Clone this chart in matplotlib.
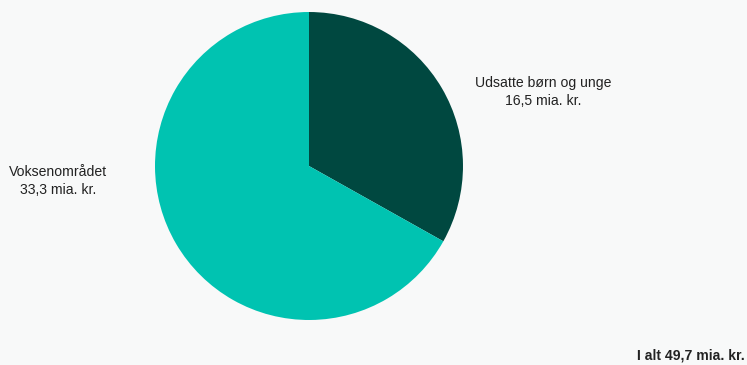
import matplotlib
matplotlib.use("Agg")
import matplotlib.pyplot as plt

categories = ["Udsatte børn og unge", "Voksenområdet"]
values = [16.5, 33.3]
value_labels = ["16,5 mia. kr.", "33,3 mia. kr."]
total_label = "I alt 49,7 mia. kr."
colors = ["#004840", "#00c3b1"]

plt.rcParams['font.family'] = ['Liberation Sans', 'DejaVu Sans']
bg = "#f8f9f9"
fig = plt.figure(figsize=(7.47, 3.65), dpi=100, facecolor=bg)
ax = fig.add_axes([0.2075, 0.1233, 0.4123, 0.8438])
ax.set_facecolor(bg)
ax.pie(values, colors=colors, startangle=90, counterclock=False, radius=1,
       wedgeprops=dict(linewidth=0))
ax.set_xlim(-1, 1)
ax.set_ylim(-1, 1)
ax.set_aspect('equal')
ax.axis('off')

fig.text(543/747, 1 - 92/365, f"{categories[0]}\n{value_labels[0]}", ha='center', va='center',
         fontsize=10.1, color='#222222', linespacing=1.3)
fig.text(58/747, 1 - 181/365, f"{categories[1]}\n{value_labels[1]}", ha='center', va='center',
         fontsize=10.1, color='#222222', linespacing=1.3)
fig.text(745/747, 1 - 355/365, total_label, ha='right', va='center',
         fontsize=10.1, fontweight='bold', color='#222222')

fig.savefig("out.png", dpi=100, facecolor=bg)
